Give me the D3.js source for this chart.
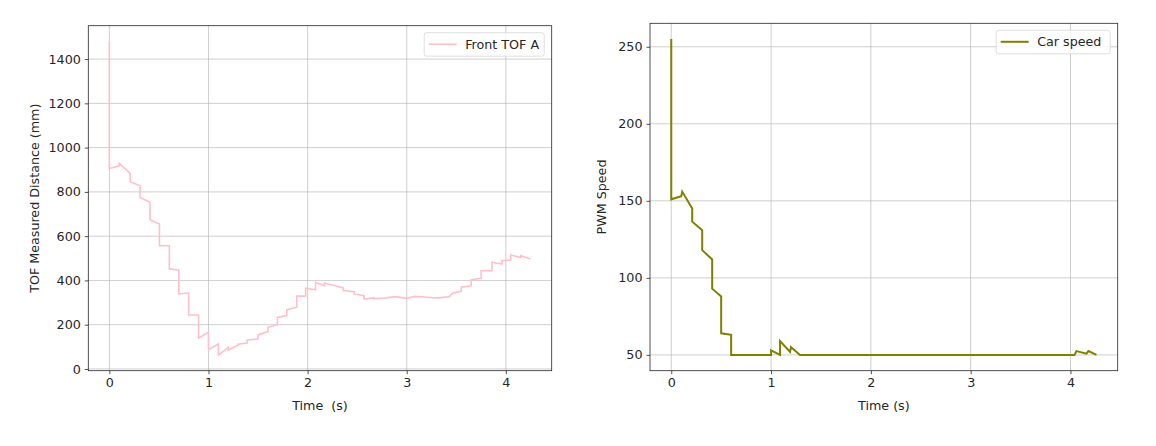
<!DOCTYPE html>
<html>
<head>
<meta charset="utf-8">
<script src="https://cdn.jsdelivr.net/npm/d3@7"></script>
<style>
  body { margin: 0; background: #fff; }
  svg { display: block; font-family: "DejaVu Sans", sans-serif; }
  .grid line { stroke: #b0b0b0; stroke-width: 0.8; opacity: 0.75; }
</style>
</head>
<body>
<svg id="chart"></svg>
<script>
// Front TOF sensor readings (time in s, distance in mm)
const tofTime = [0, 0, 0.1, 0.1, 0.21, 0.21, 0.31, 0.31, 0.41, 0.41, 0.505, 0.505, 0.605, 0.605,
  0.70, 0.70, 0.80, 0.80, 0.90, 0.90, 1.0, 1.0, 1.1, 1.1, 1.2, 1.2, 1.3, 1.3, 1.39, 1.39,
  1.5, 1.5, 1.6, 1.6, 1.695, 1.695, 1.79, 1.79, 1.89, 1.89, 1.98, 1.98, 2.08, 2.08,
  2.17, 2.17, 2.27, 2.36, 2.36, 2.47, 2.47, 2.57, 2.57, 2.67, 2.67, 2.77, 2.88, 3.0,
  3.08, 3.18, 3.25, 3.33, 3.43, 3.46, 3.55, 3.55, 3.65, 3.65, 3.75, 3.75, 3.86, 3.86,
  3.96, 3.96, 4.05, 4.05, 4.15, 4.15, 4.25];
const tofDist = [1480, 906, 918, 929, 884, 846, 828, 775, 753, 674, 655, 557, 557, 452,
  447, 339, 343, 244, 244, 139, 166, 87, 113, 63, 98, 85, 108, 112, 117, 131,
  135, 154, 169, 188, 200, 233, 241, 268, 279, 329, 329, 365, 358, 391,
  376, 388, 377, 366, 354, 349, 339, 331, 316, 322, 318, 320, 327, 319,
  328, 325, 322, 321, 327, 342, 351, 369, 376, 403, 410, 444, 444, 482,
  474, 489, 492, 515, 504, 512, 497];

// Car speed (PWM)
const speedTime = [0, 0, 0.1, 0.11, 0.21, 0.21, 0.31, 0.31, 0.41, 0.41, 0.50, 0.50, 0.60, 0.60,
  1.0, 1.0, 1.09, 1.09, 1.19, 1.2, 1.29, 4.04, 4.06, 4.16, 4.18, 4.26];
const speedPwm = [255, 151, 153, 156, 145, 136.5, 131, 118, 112, 93, 88, 64, 63, 50,
  50, 53, 50, 59, 52, 55, 50, 50, 52.5, 50.8, 52.5, 50];

const xTicks = [0, 1, 2, 3, 4];
const tofTicks = [0, 200, 400, 600, 800, 1000, 1200, 1400];
const pwmTicks = [50, 100, 150, 200, 250];

const width = 1156;
const height = 446;
const fontSize = 12.7;
const textColor = "#262626";

const svg = d3.select("#chart")
  .attr("width", width)
  .attr("height", height);

// matplotlib-style 5% padding around the data
function padded(values) {
  const [lo, hi] = d3.extent(values);
  const m = (hi - lo) * 0.05;
  return [lo - m, hi + m];
}

function drawPanel(opts) {
  const { box, xs, ys, yTicks, color, lineWidth, xLabel, yLabel, legend, legendW } = opts;

  const x = d3.scaleLinear().domain(padded(xs)).range([box.left, box.right]);
  const y = d3.scaleLinear().domain(padded(ys)).range([box.bottom, box.top]);

  const g = svg.append("g");

  // grid
  const grid = g.append("g").attr("class", "grid");
  grid.selectAll(".gx").data(xTicks).enter().append("line")
    .attr("x1", d => x(d)).attr("x2", d => x(d))
    .attr("y1", box.top).attr("y2", box.bottom);
  grid.selectAll(".gy").data(yTicks).enter().append("line")
    .attr("x1", box.left).attr("x2", box.right)
    .attr("y1", d => y(d)).attr("y2", d => y(d));

  // the series
  const pts = xs.map((t, i) => [t, ys[i]]);
  g.append("path")
    .datum(pts)
    .attr("fill", "none")
    .attr("stroke", color)
    .attr("stroke-width", lineWidth)
    .attr("stroke-linejoin", "miter")
    .attr("d", d3.line().x(d => x(d[0])).y(d => y(d[1])));

  // axes
  const xAxis = d3.axisBottom(x).tickValues(xTicks).tickSize(3.5).tickPadding(4).tickFormat(d3.format("d"));
  const yAxis = d3.axisLeft(y).tickValues(yTicks).tickSize(3.5).tickPadding(4).tickFormat(d3.format("d"));

  const gx = g.append("g").attr("transform", `translate(0,${box.bottom})`).call(xAxis);
  const gy = g.append("g").attr("transform", `translate(${box.left},0)`).call(yAxis);
  [gx, gy].forEach(a => {
    a.select(".domain").remove();
    a.selectAll("line").attr("stroke", textColor).attr("stroke-width", 0.8);
    a.selectAll("text").attr("fill", textColor).style("font-size", fontSize + "px")
      .style("font-family", "DejaVu Sans");
  });

  // frame
  g.append("rect")
    .attr("x", box.left).attr("y", box.top)
    .attr("width", box.right - box.left).attr("height", box.bottom - box.top)
    .attr("fill", "none").attr("stroke", textColor).attr("stroke-width", 0.8);

  // axis labels
  g.append("text")
    .attr("x", (box.left + box.right) / 2).attr("y", box.bottom + 39)
    .attr("text-anchor", "middle").attr("fill", textColor)
    .style("font-size", fontSize + "px")
    .style("white-space", "pre")
    .text(xLabel);
  g.append("text")
    .attr("transform", `translate(${opts.yLabelX},${(box.top + box.bottom) / 2}) rotate(-90)`)
    .attr("text-anchor", "middle").attr("fill", textColor)
    .style("font-size", fontSize + "px")
    .text(yLabel);

  // legend
  const lx = box.right - 7.5 - legendW;
  const ly = box.top + 7;
  const lg = g.append("g").attr("transform", `translate(${lx},${ly})`);
  lg.append("rect")
    .attr("width", legendW).attr("height", 23.5).attr("rx", 2.5)
    .attr("fill", "#fff").attr("fill-opacity", 0.8)
    .attr("stroke", "#d6d6d6").attr("stroke-width", 0.8);
  lg.append("line")
    .attr("x1", 4.5).attr("x2", 32.5).attr("y1", 11.5).attr("y2", 11.5)
    .attr("stroke", color).attr("stroke-width", lineWidth);
  lg.append("text")
    .attr("x", 41).attr("y", 16)
    .attr("fill", textColor).style("font-size", fontSize + "px")
    .text(legend);
}

drawPanel({
  box: { left: 88.3, right: 551.7, top: 25.7, bottom: 370.7 },
  xs: tofTime, ys: tofDist, yTicks: tofTicks,
  color: "pink", lineWidth: 1.6,
  xLabel: "Time  (s)", yLabel: "TOF Measured Distance (mm)", yLabelX: 39,
  legend: "Front TOF A", legendW: 120
});

drawPanel({
  box: { left: 650, right: 1117.7, top: 23.3, bottom: 370.7 },
  xs: speedTime, ys: speedPwm, yTicks: pwmTicks,
  color: "olive", lineWidth: 2,
  xLabel: "Time (s)", yLabel: "PWM Speed", yLabelX: 606,
  legend: "Car speed", legendW: 114
});
</script>
</body>
</html>
